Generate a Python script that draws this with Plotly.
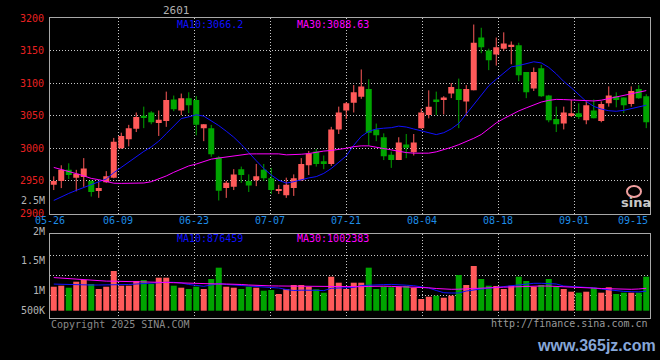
import plotly.graph_objects as go
import pandas as pd

# ---------------- data ----------------
dates = [d.strftime("%m-%d") for d in pd.bdate_range("2025-05-26", "2025-09-15")
         if d.strftime("%m-%d") != "06-02"]

opens = [2944, 2950, 2967, 2955, 2956, 2950, 2936, 2948, 2955, 3000,
         3014, 3030, 3050, 3055, 3039, 3042, 3075, 3058, 3077, 3074,
         3031, 3031, 2986, 2939, 2941, 2968, 2950, 2951, 2967, 2954,
         2935, 2928, 2939, 2951, 2974, 2995, 2980, 2976, 3029, 3058,
         3070, 3079, 3091, 3029, 3017, 2990, 2982, 3006, 2994, 3031,
         3051, 3075, 3075, 3084, 3091, 3072, 3089, 3170, 3150, 3144,
         3153, 3157, 3158, 3117, 3092, 3123, 3081, 3045, 3038, 3051,
         3054, 3043, 3058, 3042, 3069, 3080, 3078, 3068, 3091, 3080]
highs = [2957, 2974, 2977, 2967, 2985, 2951, 2949, 2965, 3016, 3024,
         3036, 3055, 3064, 3057, 3058, 3087, 3081, 3084, 3086, 3080,
         3037, 3036, 2988, 2950, 2968, 2972, 2960, 2976, 2976, 2970,
         2944, 2955, 2960, 2985, 2996, 2999, 2989, 3033, 3064, 3071,
         3097, 3121, 3106, 3038, 3023, 2995, 3017, 3022, 3022, 3061,
         3089, 3087, 3080, 3100, 3107, 3097, 3190, 3185, 3153, 3170,
         3178, 3164, 3162, 3117, 3124, 3128, 3082, 3064, 3064, 3074,
         3069, 3072, 3075, 3072, 3095, 3086, 3078, 3095, 3097, 3083]
lows = [2936, 2939, 2953, 2934, 2941, 2926, 2924, 2947, 2954, 2999,
        3003, 3025, 3031, 3037, 3019, 3033, 3057, 3051, 3054, 3020,
        3011, 2987, 2920, 2924, 2936, 2947, 2933, 2942, 2950, 2930,
        2930, 2924, 2927, 2950, 2959, 2972, 2968, 2973, 3022, 3045,
        3055, 3076, 3004, 3011, 2982, 2970, 2982, 2985, 2989, 3030,
        3046, 3051, 3052, 3077, 3031, 3050, 3089, 3146, 3120, 3127,
        3150, 3129, 3103, 3077, 3088, 3079, 3040, 3025, 3029, 3048,
        3045, 3037, 3046, 3040, 3064, 3063, 3054, 3064, 3076, 3031]
closes = [2950, 2967, 2959, 2961, 2969, 2933, 2939, 2957, 3010, 3019,
          3031, 3048, 3048, 3040, 3044, 3074, 3060, 3077, 3066, 3036,
          3037, 2991, 2935, 2947, 2960, 2959, 2943, 2957, 2954, 2936,
          2937, 2944, 2954, 2976, 2992, 2976, 2976, 3029, 3055, 3069,
          3086, 3095, 3024, 3020, 2988, 2982, 3009, 3001, 3009, 3055,
          3064, 3071, 3078, 3094, 3074, 3091, 3162, 3155, 3135, 3155,
          3161, 3159, 3112, 3086, 3117, 3080, 3043, 3037, 3055, 3054,
          3048, 3066, 3046, 3068, 3081, 3074, 3066, 3088, 3077, 3040]
ma10 = [2920.0, 2925.7, 2930.8, 2935.5, 2940.1, 2944.6, 2949.1, 2953.0, 2962.6, 2971.0,
        2979.1, 2987.2, 2995.2, 3002.2, 3011.0, 3022.6, 3034.1, 3045.7, 3048.3, 3051.5,
        3049.4, 3042.8, 3034.9, 3026.3, 3017.1, 3006.0, 2993.0, 2981.0, 2969.0, 2959.0,
        2951.0, 2946.7, 2948.8, 2952.2, 2954.6, 2956.6, 2961.5, 2969.0, 2978.5, 2988.3,
        3004.7, 3018.3, 3026.1, 3029.7, 3030.9, 3031.7, 3034.1, 3032.7, 3029.7, 3026.9,
        3024.0, 3021.1, 3024.0, 3029.8, 3038.2, 3053.0, 3068.0, 3083.0, 3096.0, 3106.0,
        3116.0, 3125.0, 3127.0, 3129.8, 3132.8, 3131.1, 3124.2, 3114.3, 3102.6, 3093.0,
        3082.2, 3071.9, 3064.4, 3060.3, 3057.7, 3056.9, 3058.3, 3060.9, 3064.1, 3066.2]
ma30 = [2970.7, 2967.8, 2964.7, 2961.2, 2957.7, 2953.9, 2951.9, 2949.4, 2946.5, 2946.2,
        2946.2, 2946.5, 2946.8, 2948.8, 2952.6, 2957.6, 2963.2, 2968.3, 2973.0, 2975.9,
        2979.9, 2983.4, 2985.1, 2986.9, 2988.9, 2990.3, 2991.4, 2991.5, 2991.5, 2991.5,
        2991.5, 2990.0, 2990.0, 2990.9, 2992.0, 2994.0, 2995.8, 2996.7, 2998.0, 3000.1,
        3002.6, 3003.8, 3003.8, 3001.8, 2999.3, 2997.0, 2995.1, 2993.5, 2992.6, 2992.6,
        2992.6, 2994.6, 2997.7, 3001.5, 3005.6, 3009.9, 3015.4, 3021.2, 3030.6, 3039.0,
        3045.6, 3051.7, 3057.4, 3062.1, 3066.4, 3071.0, 3073.6, 3075.1, 3074.8, 3074.2,
        3073.3, 3072.7, 3072.7, 3073.9, 3076.2, 3078.8, 3081.5, 3084.1, 3086.4, 3088.63]
volume = [1071000, 1116000, 1027000, 1295000, 1371000, 1192000, 969000, 1071000, 1772000, 1116000,
          1116000, 1326000, 1371000, 1192000, 1473000, 1473000, 1116000, 1027000, 969000, 1071000,
          969000, 1415000, 1920000, 1071000, 1027000, 969000, 1071000, 1027000, 893000, 924000,
          746000, 969000, 1147000, 1147000, 1071000, 955000, 804000, 1518000, 1250000, 969000,
          1250000, 1250000, 1920000, 969000, 1071000, 1045000, 1071000, 1103000, 1027000, 522000,
          625000, 670000, 580000, 670000, 1594000, 1147000, 1996000, 1415000, 1116000, 1103000,
          969000, 1116000, 1518000, 1326000, 1071000, 1147000, 1415000, 1071000, 969000, 848000,
          804000, 848000, 1027000, 804000, 1045000, 746000, 804000, 804000, 804000, 1518000]
vol_ma10 = [1188000, 1174000, 1161000, 1152000, 1147000, 1147000, 1147000, 1147000, 1147000, 1156000,
            1170000, 1192000, 1214000, 1237000, 1254000, 1268000, 1268000, 1237000, 1170000, 1125000,
            1089000, 1147000, 1214000, 1170000, 1147000, 1103000, 1076000, 1058000, 1049000, 1031000,
            1013000, 946000, 902000, 915000, 924000, 911000, 897000, 1000000, 1013000, 1022000,
            1036000, 1125000, 1147000, 1156000, 1165000, 1174000, 1170000, 1138000, 1116000, 1076000,
            1013000, 902000, 804000, 790000, 790000, 879000, 938000, 969000, 1004000, 1040000,
            1071000, 1107000, 1152000, 1205000, 1223000, 1223000, 1223000, 1192000, 1103000, 1089000,
            1076000, 1058000, 1018000, 969000, 924000, 879000, 862000, 848000, 839000, 876459]
vol_ma30 = [1478000, 1455000, 1433000, 1402000, 1366000, 1348000, 1330000, 1321000, 1317000, 1313000,
            1308000, 1299000, 1290000, 1277000, 1268000, 1259000, 1250000, 1237000, 1223000, 1210000,
            1196000, 1192000, 1192000, 1192000, 1192000, 1170000, 1147000, 1125000, 1112000, 1107000,
            1103000, 1098000, 1094000, 1089000, 1085000, 1080000, 1076000, 1067000, 1054000, 1049000,
            1058000, 1071000, 1085000, 1098000, 1094000, 1085000, 1076000, 1067000, 1058000, 1045000,
            1022000, 991000, 969000, 955000, 960000, 969000, 978000, 987000, 1013000, 1036000,
            1049000, 1063000, 1076000, 1089000, 1103000, 1103000, 1098000, 1089000, 1076000, 1063000,
            1045000, 1027000, 1009000, 991000, 978000, 964000, 955000, 955000, 969000, 1002383]

date_ticks = ["05-26", "06-09", "06-23", "07-07", "07-21", "08-04", "08-18", "09-01", "09-15"]
price_ticks = [2900, 2950, 3000, 3050, 3100, 3150, 3200]
vol_tick_labels = ["2M", "1.5M", "1M", "500K"]
title_text = "2601"

# ---------------- styling ----------------
RED = "#ff5a5a"
GREEN = "#00a400"
BLUE = "#1010ff"
MAG = "#ff00ff"
GRID = "#c8c8c8"
FRAME = "#a8a8a8"
DATE_C = "#1e8ce6"
MONO = "DejaVu Sans Mono"

L, R, T, B = 50, 10, 18, 42
W, H = 660, 360
PW, PH = W - L - R, H - T - B


def px(x):
    return (x - L) / PW


def py(y):
    return (H - B - y) / PH


n = len(closes)
idx = list(range(n))
up = [c >= o for o, c in zip(opens, closes)]
colors = [RED if u else GREEN for u in up]

fig = go.Figure()

# wicks
for flag, col in ((True, RED), (False, GREEN)):
    wx, wy = [], []
    for i in idx:
        if up[i] == flag:
            wx += [i, i, None]
            wy += [lows[i], highs[i], None]
    fig.add_trace(go.Scatter(x=wx, y=wy, mode="lines", line=dict(color=col, width=1),
                             hoverinfo="skip", showlegend=False, xaxis="x", yaxis="y"))

# bodies
bases = [min(o, c) for o, c in zip(opens, closes)]
heights = [max(abs(c - o), 1.2) for o, c in zip(opens, closes)]
fig.add_trace(go.Bar(x=idx, y=heights, base=bases, width=0.8, marker=dict(color=colors, line=dict(width=0)),
                     hovertext=dates, showlegend=False, xaxis="x", yaxis="y"))

fig.add_trace(go.Scatter(x=idx, y=ma10, mode="lines", line=dict(color=BLUE, width=1),
                         showlegend=False, xaxis="x", yaxis="y"))
fig.add_trace(go.Scatter(x=idx, y=ma30, mode="lines", line=dict(color=MAG, width=1),
                         showlegend=False, xaxis="x", yaxis="y"))

# volume
fig.add_trace(go.Bar(x=idx, y=volume, width=0.8, marker=dict(color=colors, line=dict(width=0)),
                     showlegend=False, xaxis="x2", yaxis="y2"))
fig.add_trace(go.Scatter(x=idx, y=vol_ma10, mode="lines", line=dict(color=BLUE, width=1),
                         showlegend=False, xaxis="x2", yaxis="y2"))
fig.add_trace(go.Scatter(x=idx, y=vol_ma30, mode="lines", line=dict(color=MAG, width=1),
                         showlegend=False, xaxis="x2", yaxis="y2"))

# date grid positions (Sina spaces the date grid over n-1 steps)
date_idx = [0, 9, 19, 29, 39, 49, 59, 69, 79]
grid_x = [d * n / (n - 1) - 0.5 for d in date_idx]

# volume axis: 22.4 px per million, zero at pixel 310.7
vscale = 22.4 / 1e6
v_lo = (310.7 - 318.0) / vscale
v_hi = (310.7 - 234.3) / vscale
v_grid = [(310.7 - y) / vscale for y in (255.7, 275.7, 295.7)]

common_x = dict(range=[-0.5, n - 0.5], tickvals=grid_x, showgrid=True, gridcolor=GRID,
                griddash="1px,2px", gridwidth=1, showline=True, mirror=True, linecolor=FRAME,
                linewidth=1, zeroline=False, ticks="", fixedrange=True)

fig.update_layout(
    width=W, height=H, margin=dict(l=L, r=R, t=T, b=B),
    paper_bgcolor="black", plot_bgcolor="black", barmode="overlay",
    font=dict(family=MONO, size=10, color="#b4b4b4"),
    showlegend=False, hovermode=False,
    xaxis=dict(domain=[0, 1], anchor="y", showticklabels=False, **common_x),
    yaxis=dict(domain=[py(213.5), 1], range=[2900, 3200], tickvals=price_ticks,
               ticktext=[str(v) for v in price_ticks],
               tickfont=dict(color="#e82020", size=10, family=MONO),
               showgrid=True, gridcolor=GRID, griddash="1px,2px", showline=True, mirror=True,
               linecolor=FRAME, zeroline=False, ticks="", ticklabelstandoff=3),
    xaxis2=dict(domain=[0, 1], anchor="y2", showticklabels=False, **common_x),
    yaxis2=dict(domain=[0, py(234.3)], range=[v_lo, v_hi], tickvals=v_grid, showticklabels=False,
                showgrid=True, gridcolor=GRID, griddash="1px,2px", showline=True, mirror=True,
                linecolor=FRAME, zeroline=False, ticks=""),
)

ann = []


def text(t, x, y, color, xanchor="left", size=10, family=MONO, **kw):
    ann.append(dict(text=t, x=px(x), y=py(y), xref="paper", yref="paper", showarrow=False,
                    xanchor=xanchor, yanchor="middle", font=dict(color=color, size=size, family=family),
                    **kw))


# date labels under the price panel (first and last kept inside the frame edges)
for k, (lab, gx) in enumerate(zip(date_ticks, grid_x)):
    xpix = L + (gx + 0.5) * PW / n
    if k == len(date_ticks) - 1:
        text(lab, xpix, 220.5, DATE_C, xanchor="right")
    else:
        text(lab, xpix, 220.5, DATE_C, xanchor="center")

text(title_text, 176, 10, "#b0b0b0", xanchor="center", size=11)
text("MA10:%.1f" % ma10[-1], 175, 24, BLUE)
text("MA30:%.2f" % ma30[-1], 295, 24, MAG)
text("MA10:%d" % vol_ma10[-1], 175, 238, BLUE)
text("MA30:%d" % vol_ma30[-1], 295, 238, MAG)
text("2.5M", 47, 200.7, "#b4b4b4", xanchor="right")
for lab, y in zip(vol_tick_labels, (231.5, 260.5, 290.7, 310.7)):
    text(lab, 47, y, "#b4b4b4", xanchor="right")
text("Copyright 2025 SINA.COM", 49, 324, "#8a8a8a")
text("http://finance.sina.com.cn", 650, 323.5, "#9a9a9a", xanchor="right")
text("<b>sina</b>", 636, 202, "#c8c8c8", xanchor="center", size=13, family="DejaVu Sans")
text("<b>www.365jz.com</b>", 596, 345, "#86a6d8", xanchor="center", size=16, family="Liberation Sans")
fig.update_layout(annotations=ann)

fig.add_shape(type="circle", xref="paper", yref="paper", x0=px(627), x1=px(641), y0=py(197), y1=py(186),
              line=dict(color="#f0a0a0", width=2))

fig.write_html("out.html", config={"displayModeBar": False},
               post_script="document.body.style.margin='0';document.body.style.background='black';")
